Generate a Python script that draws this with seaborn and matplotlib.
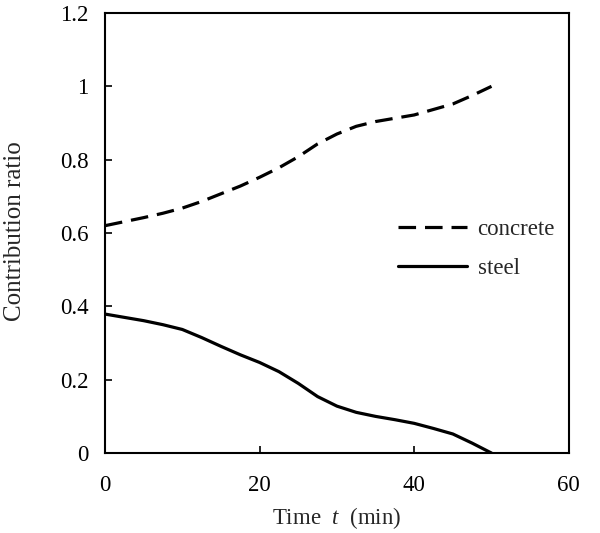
import matplotlib
matplotlib.use("Agg")
import matplotlib.pyplot as plt
import seaborn as sns
import pandas as pd

time_min = [0, 2.5, 5, 7.5, 10, 12.5, 15, 17.5, 20, 22.5, 25,
            27.5, 30, 32.5, 35, 37.5, 40, 42.5, 45, 47.5, 50]
concrete = [0.62, 0.631, 0.642, 0.654, 0.668, 0.686, 0.707, 0.728, 0.752, 0.778, 0.808,
            0.843, 0.870, 0.891, 0.904, 0.913, 0.922, 0.937, 0.952, 0.975, 1.0]
steel = [0.379, 0.370, 0.361, 0.350, 0.337, 0.315, 0.291, 0.268, 0.247, 0.222, 0.190,
         0.154, 0.128, 0.111, 0.100, 0.091, 0.081, 0.067, 0.052, 0.027, 0.0]
series_names = ["concrete", "steel"]
x_ticks = [0, 20, 40, 60]
y_ticks = [0, 0.2, 0.4, 0.6, 0.8, 1.0, 1.2]
y_tick_labels = ["0", "0.2", "0.4", "0.6", "0.8", "1", "1.2"]

df = pd.DataFrame({
    "t": time_min * 2,
    "ratio": concrete + steel,
    "series": [series_names[0]] * len(time_min) + [series_names[1]] * len(time_min),
})

FS = 16.5
sns.set_theme(style="white")
plt.rcParams["font.family"] = ["Liberation Serif", "DejaVu Serif"]
plt.rcParams["mathtext.fontset"] = "custom"
plt.rcParams["mathtext.it"] = "Liberation Serif:italic"
plt.rcParams["mathtext.rm"] = "Liberation Serif"

fig = plt.figure(figsize=(6.0, 5.33), dpi=100)
ax = fig.add_axes([0.175, 0.150, 0.773, 0.8256])

sns.lineplot(data=df, x="t", y="ratio", hue="series", style="series",
             palette={"concrete": "black", "steel": "black"},
             dashes={"concrete": (5.5, 2.8), "steel": ""},
             linewidth=2.3, ax=ax, legend=True)

for ln in ax.lines:
    ln.set_dash_capstyle("butt")
    ln.set_solid_capstyle("round")
    ln.set_solid_joinstyle("round")

ax.set_xlim(0, 60)
ax.set_ylim(0, 1.2)
ax.set_xticks(x_ticks)
ax.set_xticklabels([str(v) for v in x_ticks])
ax.set_yticks(y_ticks)
ax.set_yticklabels(y_tick_labels)
ax.tick_params(axis="both", direction="in", length=5, width=1.2,
               labelsize=FS, colors="black",
               bottom=True, left=True, top=False, right=False)
ax.tick_params(axis="x", pad=16)
ax.tick_params(axis="y", pad=12)
for s in ax.spines.values():
    s.set_visible(True)
    s.set_color("black")
    s.set_linewidth(1.5)

ax.set_xlabel(r"Time  $\mathit{t}$  (min)", fontsize=FS, labelpad=6)
ax.set_ylabel("Contribution ratio", fontsize=18)
ax.yaxis.set_label_coords(-0.17, 0.505)

leg = ax.legend(loc="upper left", bbox_to_anchor=(0.611, 0.552), frameon=False,
                fontsize=FS, handlelength=3.05, handletextpad=0.44,
                labelspacing=0.75, borderaxespad=0)
for h in leg.get_lines():
    h.set_linewidth(2.3)

fig.savefig("out.png", dpi=100)
